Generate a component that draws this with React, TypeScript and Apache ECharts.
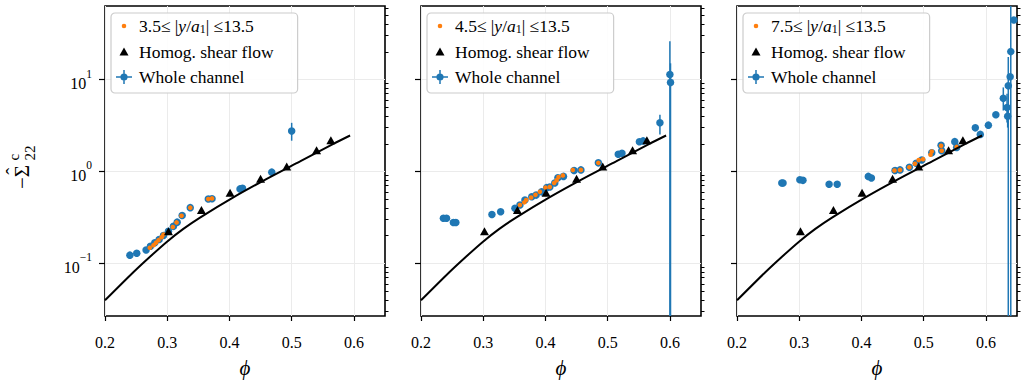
import React, { useEffect, useRef } from 'react';
import * as echarts from 'echarts';

const FONT = 'Liberation Serif';
const BLUE = '#1f77b4';
const ORANGE = '#ff7f0e';
const Y_MIN = 0.0268;
const Y_MAX = 63;

// Homogeneous shear flow (same in all panels)
const HOMOG_PHI = [0.302, 0.355, 0.401, 0.450, 0.492, 0.540, 0.563];
const HOMOG_SIG = [0.224, 0.382, 0.585, 0.833, 1.13, 1.70, 2.18];

// Black fit curve
const CURVE_PHI = [0.200, 0.2455, 0.2723, 0.2992, 0.3259, 0.3527, 0.4063, 0.4600, 0.5135, 0.5670, 0.5939];
const CURVE_SIG = [0.0397, 0.0802, 0.1183, 0.1714, 0.2374, 0.3152, 0.5231, 0.8318, 1.287, 1.995, 2.46];

// Panel 1
const P1_WHOLE_PHI = [0.240, 0.251, 0.266, 0.273, 0.280, 0.287, 0.294, 0.302, 0.310, 0.316, 0.324, 0.337, 0.366, 0.372, 0.417, 0.421, 0.468, 0.500];
const P1_WHOLE_SIG = [0.123, 0.129, 0.140, 0.154, 0.168, 0.182, 0.201, 0.224, 0.253, 0.281, 0.332, 0.404, 0.501, 0.505, 0.646, 0.657, 0.983, 2.75];
const P1_ERR = [[0.500, 2.16, 3.38]];
const P1_SUB_PHI = [0.272, 0.278, 0.282, 0.286, 0.291, 0.294, 0.309, 0.315, 0.323, 0.337, 0.366, 0.372];
const P1_SUB_SIG = [0.148, 0.158, 0.168, 0.179, 0.193, 0.206, 0.249, 0.279, 0.330, 0.404, 0.501, 0.509];

// Panel 2
const P2_WHOLE_PHI = [0.236, 0.241, 0.252, 0.256, 0.314, 0.328, 0.351, 0.359, 0.367, 0.378, 0.385, 0.394, 0.402, 0.407, 0.415, 0.420, 0.429, 0.446, 0.457, 0.485, 0.517, 0.523, 0.551, 0.557, 0.584, 0.600, 0.601];
const P2_WHOLE_SIG = [0.310, 0.310, 0.279, 0.279, 0.340, 0.364, 0.397, 0.432, 0.489, 0.531, 0.553, 0.600, 0.667, 0.679, 0.750, 0.854, 0.884, 1.025, 1.04, 1.24, 1.54, 1.58, 2.10, 2.15, 3.38, 11.3, 9.3];
const P2_ERR = [[0.584, 2.53, 4.14], [0.600, 0.001, 26], [0.601, 0.001, 15]];
const P2_SUB_PHI = [0.359, 0.366, 0.369, 0.377, 0.384, 0.391, 0.400, 0.407, 0.414, 0.418, 0.421, 0.428, 0.444, 0.457, 0.485];
const P2_SUB_SIG = [0.432, 0.461, 0.489, 0.521, 0.557, 0.600, 0.667, 0.679, 0.750, 0.801, 0.869, 0.906, 1.04, 1.04, 1.24];

// Panel 3
const P3_WHOLE_PHI = [0.272, 0.274, 0.301, 0.306, 0.348, 0.361, 0.411, 0.416, 0.454, 0.462, 0.477, 0.488, 0.497, 0.513, 0.528, 0.529, 0.550, 0.553, 0.583, 0.591, 0.604, 0.616, 0.628, 0.634, 0.635, 0.636, 0.639, 0.640, 0.645];
const P3_WHOLE_SIG = [0.750, 0.750, 0.813, 0.800, 0.726, 0.726, 0.884, 0.848, 1.025, 1.04, 1.11, 1.23, 1.33, 1.60, 1.93, 1.68, 2.11, 1.82, 2.98, 2.53, 3.19, 4.14, 6.26, 4.97, 3.98, 8.56, 10.7, 20.1, 44.3];
const P3_ERR = [[0.628, 4.6, 8.2], [0.634, 3.4, 7.0], [0.635, 3.0, 5.3], [0.636, 0.001, 17.6], [0.640, 0.001, 1000]];
const P3_SUB_PHI = [0.453, 0.462, 0.477, 0.486, 0.492, 0.499, 0.511, 0.513, 0.528, 0.529, 0.553];
const P3_SUB_SIG = [1.025, 1.04, 1.11, 1.21, 1.33, 1.36, 1.52, 1.65, 1.90, 1.68, 1.85];

const X_TICKS = [0.2, 0.3, 0.4, 0.5, 0.6];
const Y_MAJOR = [0.1, 1, 10];
const Y_MINOR = [0.03, 0.04, 0.05, 0.06, 0.07, 0.08, 0.09, 0.2, 0.3, 0.4, 0.5, 0.6, 0.7, 0.8, 0.9, 2, 3, 4, 5, 6, 7, 8, 9, 20, 30, 40, 50, 60];
const RANGE_LOWS = ['3.5', '4.5', '7.5'];
const RANGE_HIGH = '13.5';

const PANELS = [
  { wp: P1_WHOLE_PHI, ws: P1_WHOLE_SIG, err: P1_ERR, sp: P1_SUB_PHI, ss: P1_SUB_SIG },
  { wp: P2_WHOLE_PHI, ws: P2_WHOLE_SIG, err: P2_ERR, sp: P2_SUB_PHI, ss: P2_SUB_SIG },
  { wp: P3_WHOLE_PHI, ws: P3_WHOLE_SIG, err: P3_ERR, sp: P3_SUB_PHI, ss: P3_SUB_SIG },
];

const GRID_LEFTS = [105, 421, 737];
const GRID_TOP = 6;
const GRID_W = 280;
const GRID_H = 314.7;

const CORNERS = 'M0 0L0.01 0L0 0.01Z M20 16L19.99 16L20 15.99Z';
const ICON_DOT = 'path://' + CORNERS + ' M7.7 8A2.3 2.3 0 1 1 12.3 8A2.3 2.3 0 1 1 7.7 8Z';
const ICON_TRI = 'path://' + CORNERS + ' M10 4L14.5 12L5.5 12Z';
const ICON_WHOLE = 'path://' + CORNERS + ' M2 7.25L18 7.25L18 8.75L2 8.75Z M9.25 1L10.75 1L10.75 15L9.25 15Z M6.4 8A3.6 3.6 0 1 1 13.6 8A3.6 3.6 0 1 1 6.4 8Z';

const zip = (a: number[], b: number[]) => a.map((v, i) => [v, b[i]]);
const clampY = (v: number) => Math.min(Y_MAX, Math.max(Y_MIN, v));

function buildOption() {
  const labelMap: Record<string, string> = {};
  const grid: any[] = [];
  const xAxis: any[] = [];
  const yAxis: any[] = [];
  const series: any[] = [];
  const legend: any[] = [];

  PANELS.forEach((p, i) => {
    grid.push({
      left: GRID_LEFTS[i], top: GRID_TOP, width: GRID_W, height: GRID_H,
      show: true, borderColor: '#000', borderWidth: 1.6, backgroundColor: 'transparent',
    });
    xAxis.push({
      type: 'value', gridIndex: i, min: 0.2, max: 0.65, interval: 0.1,
      axisLine: { show: false },
      axisTick: { show: true, length: 5, lineStyle: { color: '#000', width: 1.2 }, customValues: X_TICKS },
      axisLabel: {
        show: true, margin: 18, customValues: X_TICKS, hideOverlap: false,
        fontFamily: FONT, fontSize: 16, color: '#000',
        formatter: (v: number) => (v > 0.61 ? '' : v.toFixed(1)),
      },
      splitLine: { show: true, lineStyle: { color: '#ebebeb', width: 1 } },
      name: 'ϕ', nameLocation: 'middle', nameGap: 41,
      nameTextStyle: { fontFamily: FONT, fontStyle: 'italic', fontSize: 21, color: '#000' },
    });
    yAxis.push({
      type: 'log', logBase: 10, gridIndex: i, min: Y_MIN, max: Y_MAX,
      axisLine: { show: false },
      axisTick: { show: true, length: 6, lineStyle: { color: '#000', width: 1.2 }, customValues: Y_MAJOR },
      axisLabel: {
        show: i === 0, margin: 13, customValues: Y_MAJOR,
        formatter: (v: number) => {
          const e = Math.log10(v);
          const r = Math.round(e);
          if (Math.abs(e - r) > 1e-6) return '';
          return `{b|10}{s|${r < 0 ? '−' + -r : r}}`;
        },
        rich: {
          b: { fontFamily: FONT, fontSize: 16, color: '#000', lineHeight: 24, verticalAlign: 'bottom' },
          s: { fontFamily: FONT, fontSize: 11.5, color: '#000', lineHeight: 13, verticalAlign: 'top' },
        },
      },
      splitLine: { show: true, lineStyle: { color: '#ebebeb', width: 1 } },
    });
    yAxis.push({
      type: 'log', logBase: 10, gridIndex: i, min: Y_MIN, max: Y_MAX,
      axisLine: { show: false },
      axisTick: { show: true, length: 3.5, lineStyle: { color: '#000', width: 1 }, customValues: Y_MINOR },
      axisLabel: { show: false },
      splitLine: { show: false },
    });
    const yi = i * 2;
    series.push({
      type: 'custom', name: `err${i}`, xAxisIndex: i, yAxisIndex: yi, clip: true, z: 2,
      encode: { x: 0, y: [1, 2] },
      data: p.err,
      renderItem: (params: any, api: any) => {
        const x = api.value(0);
        const a = api.coord([x, clampY(api.value(1))]);
        const b = api.coord([x, clampY(api.value(2))]);
        return { type: 'line', shape: { x1: a[0], y1: a[1], x2: b[0], y2: b[1] }, style: { stroke: BLUE, lineWidth: 1.5 } };
      },
    });
    series.push({
      type: 'scatter', name: `whole${i}`, xAxisIndex: i, yAxisIndex: yi, z: 3,
      symbol: 'circle', symbolSize: 7.5, itemStyle: { color: BLUE, opacity: 1 },
      data: zip(p.wp, p.ws),
    });
    series.push({
      type: 'scatter', name: `sub${i}`, xAxisIndex: i, yAxisIndex: yi, z: 4,
      symbol: 'circle', symbolSize: 4.6, itemStyle: { color: ORANGE, opacity: 1 },
      data: zip(p.sp, p.ss),
    });
    series.push({
      type: 'line', name: `curve${i}`, xAxisIndex: i, yAxisIndex: yi, z: 5,
      showSymbol: false, smooth: 0.25, lineStyle: { color: '#000', width: 2 },
      data: zip(CURVE_PHI, CURVE_SIG),
    });
    series.push({
      type: 'scatter', name: `homog${i}`, xAxisIndex: i, yAxisIndex: yi, z: 6,
      symbol: 'triangle', symbolSize: [9, 8], itemStyle: { color: '#000', opacity: 1 },
      data: zip(HOMOG_PHI, HOMOG_SIG),
    });

    labelMap[`sub${i}`] = `{n|${RANGE_LOWS[i]}≤ |}{i|y}{n|/}{i|a}{sb|1}{n|| ≤${RANGE_HIGH}}`;
    labelMap[`homog${i}`] = '{n|Homog. shear flow}';
    labelMap[`whole${i}`] = '{n|Whole channel}';

    legend.push({
      show: true, orient: 'vertical', left: GRID_LEFTS[i] + 6, top: 13,
      itemWidth: 20, itemHeight: 16, itemGap: 7.5,
      padding: [4, 24, 7, 3],
      backgroundColor: 'rgba(255,255,255,0.9)', borderColor: '#cccccc', borderWidth: 1.2, borderRadius: 4,
      selectedMode: false,
      data: [
        { name: `sub${i}`, icon: ICON_DOT },
        { name: `homog${i}`, icon: ICON_TRI },
        { name: `whole${i}`, icon: ICON_WHOLE },
      ],
      formatter: (name: string) => labelMap[name],
      textStyle: {
        fontFamily: FONT, fontSize: 17.5, color: '#000',
        rich: {
          n: { fontFamily: FONT, fontSize: 17.5, color: '#000', lineHeight: 18 },
          i: { fontFamily: FONT, fontSize: 17.5, fontStyle: 'italic', color: '#000', lineHeight: 18 },
          sb: { fontFamily: FONT, fontSize: 12, color: '#000', lineHeight: 10, verticalAlign: 'bottom' },
        },
      },
    });
  });

  const graphic = [
    {
      type: 'group', x: 22, y: 160, rotation: Math.PI / 2,
      children: [
        { type: 'text', x: -29, y: 0, style: { text: '−Σ', fontFamily: FONT, fontSize: 21, fill: '#000', verticalAlign: 'middle', align: 'left' } },
        { type: 'text', x: -11.2, y: -8, style: { text: 'ˆ', fontFamily: FONT, fontSize: 21, fill: '#000', verticalAlign: 'middle', align: 'center' } },
        { type: 'text', x: -0.5, y: -8, style: { text: 'c', fontFamily: FONT, fontSize: 15, fill: '#000', verticalAlign: 'middle', align: 'left' } },
        { type: 'text', x: -0.5, y: 8, style: { text: '22', fontFamily: FONT, fontSize: 15, fill: '#000', verticalAlign: 'middle', align: 'left' } },
      ],
    },
  ];

  return { animation: false, backgroundColor: '#fff', grid, xAxis, yAxis, series, legend, graphic };
}

export default function App() {
  const ref = useRef<HTMLDivElement>(null);
  useEffect(() => {
    if (!ref.current) return;
    const chart = echarts.init(ref.current, null, { renderer: 'svg' });
    chart.setOption(buildOption());
    return () => chart.dispose();
  }, []);
  return <div ref={ref} style={{ position: 'fixed', left: 0, top: 0, width: 1025, height: 383, background: '#fff' }} />;
}
